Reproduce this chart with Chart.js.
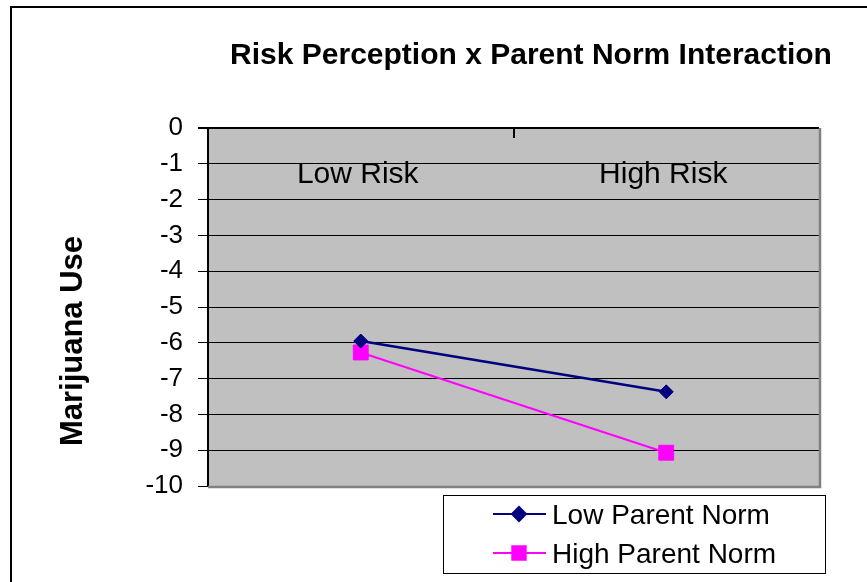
<!DOCTYPE html>
<html>
<head>
<meta charset="utf-8">
<script src="https://cdn.jsdelivr.net/npm/chart.js@4.4.1/dist/chart.umd.min.js"></script>
<style>
  html, body { margin: 0; padding: 0; background: #fff; }
  #wrap { width: 867px; height: 582px; position: relative; }
</style>
</head>
<body>
<div id="wrap"><canvas id="riskChart"></canvas></div>
<script>
const riskLevels = ["Low Risk", "High Risk"];
const lowParentNorm = [-5.95, -7.37];
const highParentNorm = [-6.27, -9.07];
const seriesNames = ["Low Parent Norm", "High Parent Norm"];
const yTicks = [0, -1, -2, -3, -4, -5, -6, -7, -8, -9, -10];

const FONT = "'Liberation Sans', Arial, sans-serif";

// grey plot background, Excel style
const plotBackground = {
  id: "plotBackground",
  beforeDraw(chart) {
    const { ctx, chartArea: a } = chart;
    ctx.save();
    ctx.fillStyle = "#c0c0c0";
    ctx.fillRect(a.left, a.top, a.right - a.left, a.bottom - a.top);
    ctx.restore();
  }
};

// titles, category labels, plot frame and boxed legend
const decorations = {
  id: "decorations",
  afterDraw(chart) {
    const { ctx, chartArea: a, scales } = chart;
    const x = scales.x;
    ctx.save();

    // outer chart frame
    ctx.strokeStyle = "#000";
    ctx.lineWidth = 2;
    ctx.strokeRect(11, 7, 900, 620);

    // shadowed right / bottom edge of plot
    ctx.strokeStyle = "#808080";
    ctx.lineWidth = 2.5;
    ctx.beginPath();
    ctx.moveTo(a.right + 1, a.top);
    ctx.lineTo(a.right + 1, a.bottom + 1);
    ctx.lineTo(a.left, a.bottom + 1);
    ctx.stroke();

    // category divider tick on the zero axis
    ctx.strokeStyle = "#000";
    ctx.lineWidth = 2;
    const mid = Math.round(x.getPixelForValue(0.5));
    ctx.beginPath();
    ctx.moveTo(mid, a.top);
    ctx.lineTo(mid, a.top + 10);
    ctx.stroke();

    ctx.fillStyle = "#000";

    // chart title
    ctx.font = "bold 30px " + FONT;
    ctx.textAlign = "center";
    ctx.textBaseline = "middle";
    ctx.fillText("Risk Perception x Parent Norm Interaction", 531, 56);

    // y axis title
    ctx.save();
    ctx.translate(73, 341);
    ctx.rotate(-Math.PI / 2);
    ctx.font = "bold 31px " + FONT;
    ctx.fillText("Marijuana Use", 0, 0);
    ctx.restore();

    // category labels sit just under the zero line
    ctx.font = "30px " + FONT;
    ctx.textBaseline = "alphabetic";
    riskLevels.forEach((label, i) => {
      ctx.fillText(label, x.getPixelForValue(i) - 3, a.top + 55);
    });

    // legend box
    ctx.lineWidth = 1;
    ctx.strokeStyle = "#000";
    ctx.strokeRect(443.5, 495.5, 382, 78);
    ctx.textAlign = "left";
    ctx.textBaseline = "alphabetic";
    ctx.font = "28px " + FONT;
    chart.data.datasets.forEach((ds, i) => {
      const y = 514 + i * 39;
      ctx.strokeStyle = ds.borderColor;
      ctx.lineWidth = 2;
      ctx.beginPath();
      ctx.moveTo(493, y);
      ctx.lineTo(546, y);
      ctx.stroke();
      Chart.helpers.drawPoint(ctx, {
        pointStyle: ds.pointStyle,
        radius: ds.pointStyle === "rect" ? 9.5 : 7,
        borderWidth: 1
      }, 519, y);
      ctx.fillStyle = ds.pointBackgroundColor;
      ctx.fill();
      ctx.fillStyle = "#000";
      ctx.fillText(ds.label, 552, y + 10);
    });

    ctx.restore();
  }
};

const context = document.getElementById("riskChart").getContext("2d");
new Chart(context, {
  type: "line",
  data: {
    labels: riskLevels,
    datasets: [
      {
        label: seriesNames[0],
        data: lowParentNorm,
        borderColor: "#000080",
        backgroundColor: "#000080",
        pointBackgroundColor: "#000080",
        pointBorderColor: "#000080",
        borderWidth: 2.5,
        pointStyle: "rectRot",
        pointRadius: 7,
        pointBorderWidth: 1,
        tension: 0
      },
      {
        label: seriesNames[1],
        data: highParentNorm,
        borderColor: "#ff00ff",
        backgroundColor: "#ff00ff",
        pointBackgroundColor: "#ff00ff",
        pointBorderColor: "#ff00ff",
        borderWidth: 2,
        pointStyle: "rect",
        pointRadius: 10.5,
        pointBorderWidth: 1,
        tension: 0
      }
    ]
  },
  options: {
    responsive: true,
    maintainAspectRatio: false,
    animation: false,
    layout: { padding: { left: 100, top: 128, right: 48, bottom: 96 } },
    plugins: {
      legend: { display: false },
      title: { display: false },
      tooltip: { enabled: false }
    },
    scales: {
      x: {
        type: "category",
        offset: true,
        display: false
      },
      y: {
        min: -10,
        max: 0,
        afterFit: (scale) => { scale.width = 108; },
        afterBuildTicks: (scale) => {
          scale.ticks = yTicks.map((v) => ({ value: v }));
        },
        border: { display: true, color: "#000", width: 2 },
        grid: {
          color: "#000",
          lineWidth: (c) => (c.tick && c.tick.value === 0 ? 2 : 1),
          drawTicks: true,
          tickLength: 10,
          tickColor: "#000"
        },
        ticks: {
          color: "#000",
          padding: 15,
          font: { family: FONT, size: 26 }
        }
      }
    }
  },
  plugins: [plotBackground, decorations]
});
</script>
</body>
</html>
